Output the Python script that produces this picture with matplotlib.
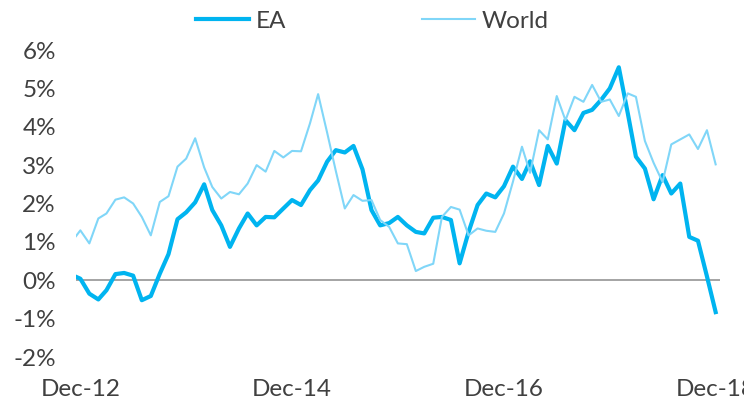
import numpy as np
import pandas as pd
import matplotlib
matplotlib.use("Agg")
import matplotlib.pyplot as plt
from matplotlib.ticker import MultipleLocator, FuncFormatter

# Monthly annual growth rates (%), first observation mid-Nov 2012
dates = pd.DatetimeIndex([pd.Timestamp("2012-11-16")]).append(
    pd.date_range("2012-12-01", "2018-12-01", freq="MS"))

ea = [0.09,
      0.04, -0.35, -0.50, -0.26, 0.16, 0.19, 0.12, -0.52, -0.41, 0.17,
      0.68, 1.59, 1.77, 2.03, 2.50, 1.83, 1.43, 0.87, 1.35, 1.74,
      1.43, 1.65, 1.64, 1.87, 2.09, 1.96, 2.35, 2.60, 3.09, 3.39,
      3.33, 3.50, 2.89, 1.83, 1.43, 1.49, 1.65, 1.43, 1.26, 1.22,
      1.63, 1.65, 1.57, 0.44, 1.26, 1.96, 2.26, 2.16, 2.45, 2.96,
      2.64, 3.10, 2.48, 3.50, 3.04, 4.17, 3.91, 4.36, 4.44, 4.70,
      5.00, 5.55, 4.35, 3.22, 2.91, 2.11, 2.74, 2.26, 2.52, 1.13,
      1.03, 0.10, -0.83]

world = [1.15,
         1.30, 0.96, 1.61, 1.74, 2.10, 2.16, 2.00, 1.65, 1.17, 2.04,
         2.19, 2.96, 3.17, 3.70, 2.94, 2.43, 2.13, 2.30, 2.24, 2.52,
         3.00, 2.83, 3.37, 3.20, 3.37, 3.36, 4.09, 4.85, 3.85, 2.85,
         1.87, 2.22, 2.07, 2.09, 1.57, 1.39, 0.96, 0.94, 0.24, 0.35,
         0.43, 1.65, 1.91, 1.84, 1.17, 1.35, 1.29, 1.26, 1.74, 2.57,
         3.48, 2.80, 3.91, 3.67, 4.80, 4.17, 4.78, 4.65, 5.09, 4.65,
         4.71, 4.28, 4.87, 4.78, 3.63, 3.06, 2.56, 3.54, 3.67, 3.80,
         3.42, 3.91, 3.02]

tick_dates = pd.to_datetime(["2012-12-01", "2014-12-01", "2016-12-01", "2018-12-01"])
tick_labels = ["Dec-12", "Dec-14", "Dec-16", "Dec-18"]

EA_COLOR = "#00B4F0"
WORLD_COLOR = "#80D6F8"
TEXT_COLOR = "#404040"
FS = 17.5

plt.rcParams["font.family"] = ["Lato", "DejaVu Sans"]
plt.rcParams["font.weight"] = "normal"

fig = plt.figure(figsize=(7.44, 3.98), dpi=100)
ax = fig.add_axes([76 / 744, 1 - 357 / 398, (720 - 76) / 744, (357 - 50) / 398])

ax.axhline(0, color="#8C8C8C", lw=1.1, zorder=1)
ax.plot(dates, ea, color=EA_COLOR, lw=3.0, label="EA", zorder=2,
        solid_joinstyle="round")
ax.plot(dates, world, color=WORLD_COLOR, lw=1.5, label="World", zorder=3)

ax.set_ylim(-2, 6)
ax.set_xlim(pd.Timestamp("2012-11-16"), pd.Timestamp("2018-12-16"))
ax.yaxis.set_major_locator(MultipleLocator(1))
ax.yaxis.set_major_formatter(FuncFormatter(lambda v, p: f"{v:.0f}%"))
ax.set_xticks(tick_dates)
ax.set_xticklabels(tick_labels)

for s in ax.spines.values():
    s.set_visible(False)
ax.tick_params(axis="both", length=0, labelsize=FS, colors=TEXT_COLOR)
ax.tick_params(axis="y", pad=14.5)
ax.tick_params(axis="x", pad=15.5)

leg = fig.legend(loc="center", bbox_to_anchor=(0.5, 1 - 21 / 398), ncol=2,
                 frameon=False, fontsize=FS, handlelength=2.2,
                 handletextpad=0.25, columnspacing=5.6)
for t in leg.get_texts():
    t.set_color(TEXT_COLOR)

fig.savefig("out.png", dpi=100)
